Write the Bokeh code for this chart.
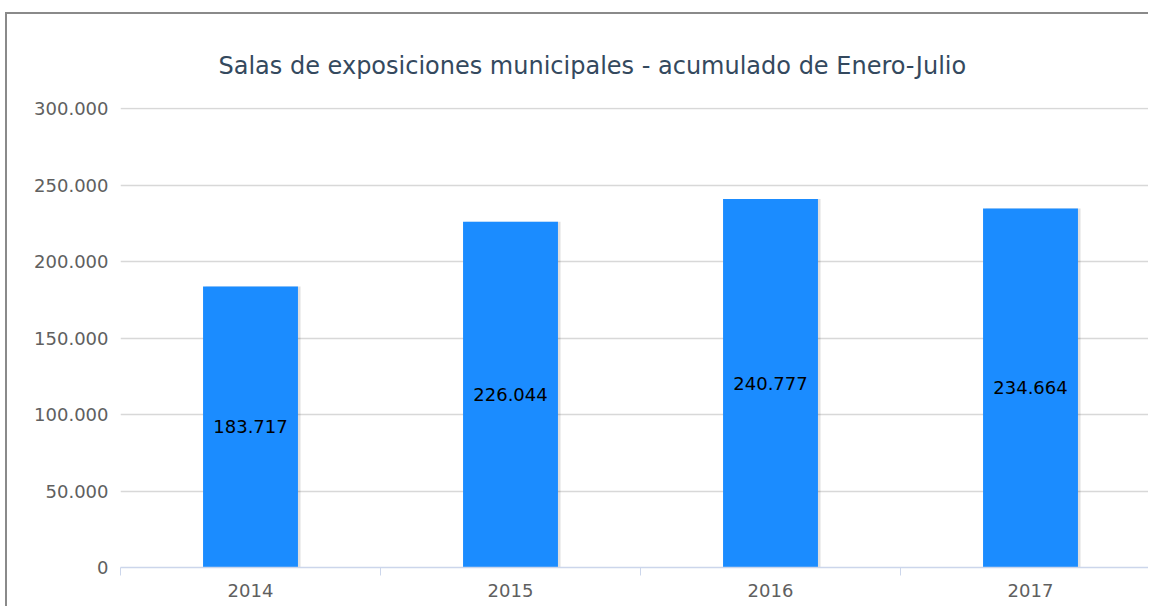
import numpy as np
from bokeh.plotting import figure
from bokeh.models import Range1d, FixedTicker, ColumnDataSource
from bokeh.transform import dodge
from bokeh.core.properties import value
from bokeh.embed import file_html
from bokeh.resources import INLINE

title_text = "Salas de exposiciones municipales - acumulado de Enero-Julio"
years = ["2014", "2015", "2016", "2017"]
visitors = [183717, 226044, 240777, 234664]
y_ticks = [0, 50000, 100000, 150000, 200000, 250000, 300000]

def fmt(v):
    return f"{v:,}".replace(",", ".")

xpos = [i + 0.5 for i in range(len(years))]
src = ColumnDataSource(dict(
    x=xpos,
    top=visitors,
    mid=[v / 2 for v in visitors],
    label=[fmt(v) for v in visitors],
))

FONT = "DejaVu Sans"
W, H = 1143, 594
LEFT, TOP, BOTTOM, RIGHT = 113, 93, 41, 0
FRAME_H = H - TOP - BOTTOM
YMAX = y_ticks[-1]
p = figure(width=W, height=H, output_backend="canvas", toolbar_location=None,
           x_range=Range1d(0, (W - LEFT - RIGHT) / 260.0),
           y_range=Range1d(0, YMAX * (1 + 1.0 / (FRAME_H - 1))),
           min_border_left=LEFT, min_border_right=RIGHT, min_border_top=TOP,
           min_border_bottom=BOTTOM)
p.output_backend = "svg"
p.styles = {"margin-left": "5px", "margin-top": "12px",
            "border-left": "2px solid #8a8a8a", "border-top": "2px solid #8a8a8a"}
p.outline_line_color = None
p.background_fill_color = "white"
p.border_fill_color = "white"

p.title.text = title_text
p.title.text_font = FONT
p.title.text_font_size = "24px"
p.title.text_font_style = "normal"
p.title.text_color = "#34495e"
p.title.align = "left"
p.title.offset = 98
p.title.standoff = 55

# shadow
p.vbar(x=dodge("x", 0.01, range=p.x_range), top="top", width=0.365, source=src,
       fill_color="#000000", fill_alpha=0.12, line_color=None)
p.vbar(x="x", top="top", width=0.365, source=src,
       fill_color="#1b8cff", line_color=None)
p.text(x="x", y="mid", text="label", source=src, text_align="center",
       text_baseline="middle", text_font=value(FONT), text_font_size="18px",
       text_color="#000000")

# x axis
xa = p.xaxis[0]
xa.ticker = FixedTicker(ticks=xpos, minor_ticks=list(range(len(years) + 1)))
xa.major_label_overrides = {x: y for x, y in zip(xpos, years)}
xa.major_tick_line_color = None
xa.major_tick_out = 0
xa.minor_tick_in = 0
xa.minor_tick_out = 8
xa.minor_tick_line_color = "#ccd6eb"
xa.axis_line_color = "#ccd6eb"
xa.axis_line_width = 1.5
xa.major_label_text_font = FONT
xa.major_label_text_font_size = "18px"
xa.major_label_text_color = "#606060"
xa.major_label_standoff = 8

ya = p.yaxis[0]
ya.ticker = FixedTicker(ticks=y_ticks)
ya.major_label_overrides = {t: fmt(t) for t in y_ticks}
ya.axis_line_color = None
ya.major_tick_line_color = None
ya.minor_tick_line_color = None
ya.major_tick_out = 0
ya.major_label_standoff = 12
ya.major_label_text_font = FONT
ya.major_label_text_font_size = "18px"
ya.major_label_text_color = "#606060"

p.xgrid.grid_line_color = None
p.ygrid.grid_line_color = "#d8d8d8"
p.ygrid.grid_line_width = 1.5

open("out.html", "w").write(file_html(p, INLINE))
